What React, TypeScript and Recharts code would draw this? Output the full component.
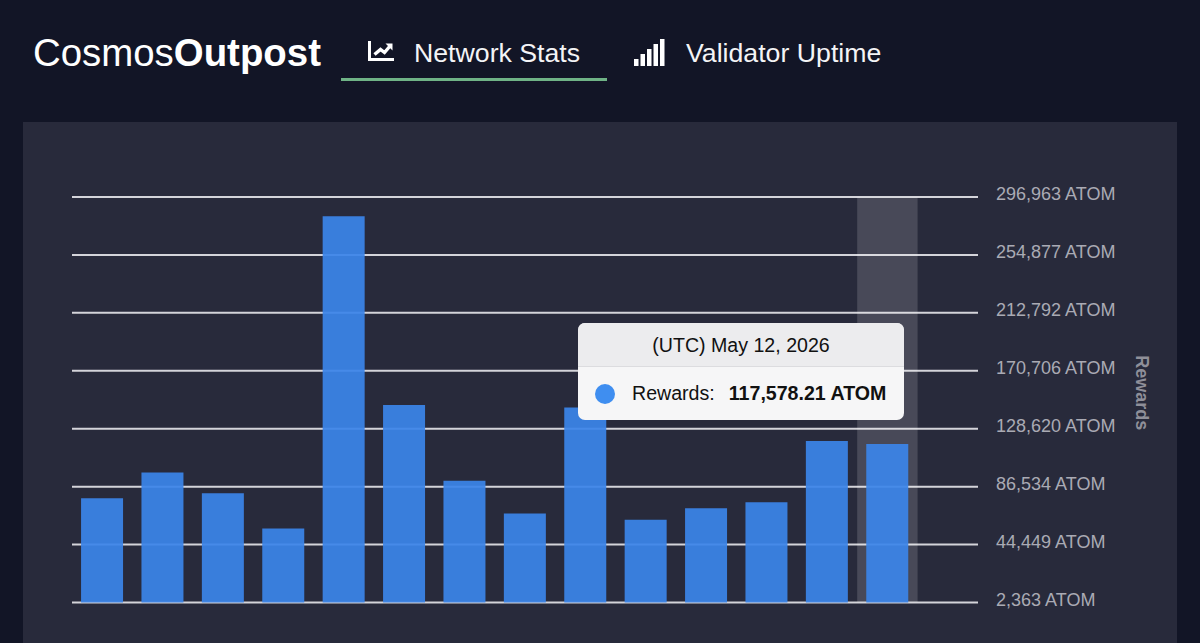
import { BarChart, Bar, CartesianGrid, Tooltip, XAxis, YAxis } from 'recharts'

const dates = [
  'Apr 29, 2026', 'Apr 30, 2026', 'May 1, 2026', 'May 2, 2026', 'May 3, 2026',
  'May 4, 2026', 'May 5, 2026', 'May 6, 2026', 'May 7, 2026', 'May 8, 2026',
  'May 9, 2026', 'May 10, 2026', 'May 11, 2026', 'May 12, 2026', 'May 13, 2026',
]
const rewards: (number | null)[] = [
  78060, 96800, 81720, 56120, 283000, 145800, 90800, 67090,
  144000, 62400, 70750, 75140, 119750, 117578.21, null,
]
const yTicks = [2363, 44449, 86534, 128620, 170706, 212792, 254877, 296963]

const data = dates.map((date, i) => ({ date, rewards: rewards[i] }))
const FONT = '"Liberation Sans", Arial, sans-serif'

function RewardsTooltip({ active, payload }: any) {
  if (!active || !payload || !payload.length) return null
  const row = payload[0]
  return (
    <div style={{ width: 326, height: 97, borderRadius: 7, overflow: 'hidden', background: '#f6f6f7', fontFamily: FONT, color: '#111', fontSize: 19.6 }}>
      <div style={{ height: 43, lineHeight: '44px', textAlign: 'center', background: '#ececee', borderBottom: '1px solid #dcdcdf' }}>
        (UTC) {row.payload.date}
      </div>
      <div style={{ display: 'flex', alignItems: 'center', height: 53, paddingLeft: 17 }}>
        <span style={{ width: 20, height: 20, borderRadius: 10, background: '#3f8ef0', marginRight: 17 }} />
        <span style={{ marginRight: 14 }}>Rewards:</span>
        <b>{row.value.toLocaleString('en-US', { minimumFractionDigits: 2 })} ATOM</b>
      </div>
    </div>
  )
}

function NavTab({ icon, label, left, width, current }: any) {
  return (
    <div style={{ position: 'absolute', left, top: 24, width, height: 57, borderBottom: current ? '3px solid #6fb386' : 'none', boxSizing: 'border-box' }}>
      {icon}
      <span style={{ position: 'absolute', left: current ? 73 : 52, top: 14, fontSize: 26.7, lineHeight: '30px', whiteSpace: 'nowrap', color: '#f4f4f6' }}>{label}</span>
    </div>
  )
}

function RewardsLabel({ viewBox }: any) {
  const x = viewBox.x + viewBox.width - 2
  const y = viewBox.y + viewBox.height / 2 - 7
  return (
    <text x={x} y={y} transform={`rotate(90 ${x} ${y})`} textAnchor="middle" fill="#8f8f99" fontSize={18} fontWeight={700} fontFamily={FONT}>
      Rewards
    </text>
  )
}

const chartIcon = (
  <svg width="26" height="20" viewBox="0 0 26 20" style={{ position: 'absolute', left: 27, top: 17 }}>
    <path d="M1.5 0v18.5h24.5" fill="none" stroke="#fff" strokeWidth="3" />
    <path d="M6.5 13.5l6-5 4 3 6-7" fill="none" stroke="#fff" strokeWidth="3.4" />
    <path d="M17.5 2.5h7v7z" fill="#fff" />
  </svg>
)
const signalIcon = (
  <svg width="31" height="27" viewBox="0 0 31 27" style={{ position: 'absolute', left: 0, top: 15 }}>
    <rect x="0" y="20" width="4.5" height="7" fill="#fff" />
    <rect x="6.5" y="15" width="4.5" height="12" fill="#fff" />
    <rect x="13" y="10" width="4.5" height="17" fill="#fff" />
    <rect x="19.5" y="5" width="4.5" height="22" fill="#fff" />
    <rect x="26" y="0" width="4.5" height="27" fill="#fff" />
  </svg>
)

export default function App() {
  return (
    <div style={{ position: 'absolute', left: 0, top: 0, width: 1200, height: 643, overflow: 'hidden', background: '#121526', fontFamily: FONT }}>
      <div style={{ position: 'absolute', left: 33, top: 31, fontSize: 38.4, lineHeight: '44px', color: '#fff', whiteSpace: 'nowrap' }}>
        Cosmos<b>Outpost</b>
      </div>
      <NavTab icon={chartIcon} label="Network Stats" left={341} width={266} current />
      <NavTab icon={signalIcon} label="Validator Uptime" left={634} width={260} />
      <div style={{ position: 'absolute', left: 23, top: 122, width: 1154, height: 521, background: '#282a3b' }} />
      <div style={{ position: 'absolute', left: 0, top: 0 }}>
        <BarChart
          width={1200}
          height={643}
          data={data}
          barCategoryGap="15%"
          margin={{ top: 197, right: 62, bottom: 40.5, left: 72 }}
        >
          <CartesianGrid horizontal vertical={false} stroke="#d4d4da" strokeWidth={2} />
          <XAxis dataKey="date" hide />
          <YAxis
            orientation="right"
            width={160}
            domain={[2363, 296963]}
            ticks={yTicks}
            interval={0}
            axisLine={false}
            tickLine={false}
            tickMargin={12}
            tick={{ fill: '#aaaab4', fontSize: 18, fontFamily: FONT, dy: -3 }}
            tickFormatter={(v: number) => `${v.toLocaleString('en-US')} ATOM`}
            label={<RewardsLabel />}
          />
          <Tooltip
            active
            defaultIndex={13}
            content={<RewardsTooltip />}
            position={{ x: 578, y: 323 }}
            cursor={{ fill: '#ffffff', fillOpacity: 0.15 }}
            isAnimationActive={false}
            wrapperStyle={{ zIndex: 5 }}
          />
          <Bar dataKey="rewards" fill="#3b84e8" fillOpacity={0.93} isAnimationActive={false} />
        </BarChart>
      </div>
    </div>
  )
}
